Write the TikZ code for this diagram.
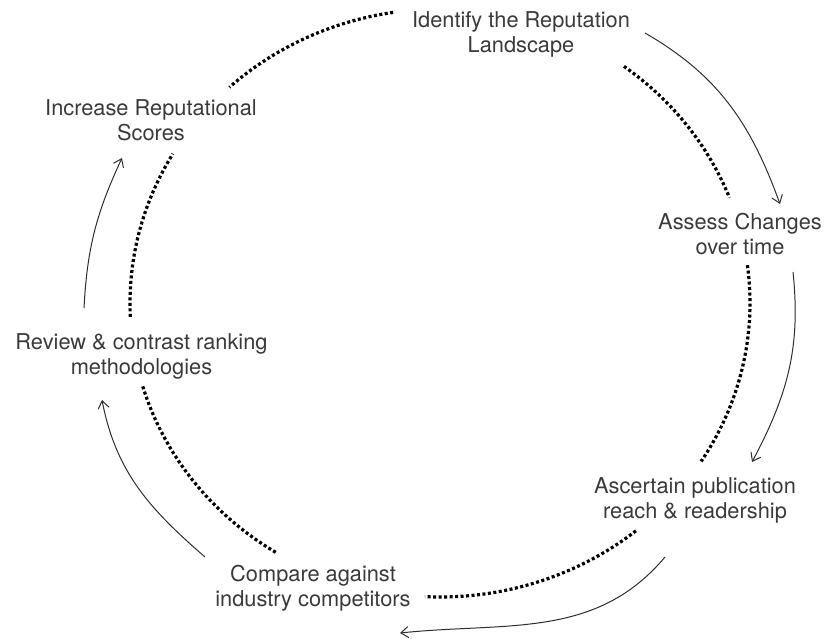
\documentclass[tikz,border=0pt]{standalone}
\usepackage{fontspec}
\setmainfont{TeX Gyre Heros}
\usetikzlibrary{arrows.meta}
\definecolor{txtgray}{HTML}{3A3A3A}
\definecolor{arrgray}{HTML}{2E2E2E}
\begin{document}
\begin{tikzpicture}[x=1pt,y=1pt,
  lbl/.style={anchor=north, inner sep=0pt, align=center, text=txtgray,
              font=\fontsize{21.8}{25.5}\selectfont},
  dots/.style={line width=3.2pt, dash pattern=on 3pt off 2.5pt, draw=black},
  flow/.style={draw=arrgray, line width=1pt, -{Straight Barb[length=7.5pt,width=11pt]}}
]
\useasboundingbox (0,0) rectangle (825,-638);

% labels
\node[lbl] (identify)  at (521,-11)  {Identify the Reputation\\Landscape};
\node[lbl] (assess)    at (740,-213) {Assess Changes\\over time};
\node[lbl] (ascertain) at (695,-477) {Ascertain publication\\reach \& readership};
\node[lbl] (compare)   at (313,-565) {Compare against\\industry competitors};
\node[lbl] (review)    at (141.5,-333) {Review \& contrast ranking\\methodologies};
\node[lbl] (increase)  at (151,-99)  {Increase Reputational\\Scores};

% dotted ring
\coordinate (c) at (440,-303);
\foreach \a/\b in {98.7/132.8, 53.6/21, 7.4/-32.6, -50.8/-92.8, 238/196.2, 182.7/149.5}
  \draw[dots] ([shift={(c)}]\a:310pt and 294pt) arc[start angle=\a, end angle=\b, x radius=310pt, y radius=294pt];

% arrow end points
\coordinate (a1s) at (645,-33);  \coordinate (a1e) at (780,-204);
\coordinate (a2s) at (793,-272); \coordinate (a2e) at (752,-462);
\coordinate (a3s) at (665,-557); \coordinate (a3e) at (400,-633);
\coordinate (a4s) at (205,-557); \coordinate (a4e) at (102,-400);
\coordinate (a5s) at (84,-308);  \coordinate (a5e) at (122,-158);

\draw[flow] (a1s) to[out=-30, in=110] (a1e);
\draw[flow] (a2s) to[out=-84, in=62] (a2e);
\draw[flow] (a3s) to[out=230, in=6] (a3e);
\draw[flow] (a4s) to[out=139, in=-79] (a4e);
\draw[flow] (a5s) to[out=87, in=-115] (a5e);
\end{tikzpicture}
\end{document}
